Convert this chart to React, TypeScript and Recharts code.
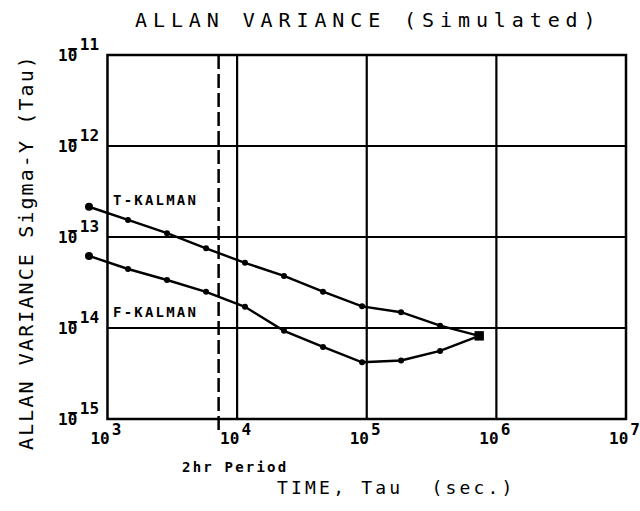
import { Line, LineChart, ReferenceArea, ReferenceLine, XAxis, YAxis } from "recharts"

const MONO = '"DejaVu Sans Mono", monospace'

// averaging times (sec) and Allan variance
const taus = [720, 1440, 2880, 5760, 11500, 23000, 46000, 92000, 184000, 368000, 737000]
const tKalman = [2.15e-13, 1.54e-13, 1.1e-13, 7.5e-14, 5.2e-14, 3.73e-14, 2.51e-14, 1.73e-14, 1.49e-14, 1.06e-14, 8.2e-15]
const fKalman = [6.2e-14, 4.45e-14, 3.37e-14, 2.5e-14, 1.71e-14, 9.3e-15, 6.2e-15, 4.2e-15, 4.4e-15, 5.6e-15, 8.2e-15]

const xTicks = [1e3, 1e4, 1e5, 1e6, 1e7]
const yTicks = [1e-15, 1e-14, 1e-13, 1e-12, 1e-11]
const xGrid = [1e4, 1e5, 1e6]
const yGrid = [1e-14, 1e-13, 1e-12]
const periodTau = 7200

const data = taus.map((tau, i) => ({ tau, t: tKalman[i], f: fKalman[i] }))

const PLOT_BOTTOM = 419

const renderDot = (props: any) => {
  const { cx, cy, index } = props
  if (index === taus.length - 1) {
    return <rect key={`d${index}`} x={cx - 4.5} y={cy - 4.5} width={9} height={9} fill="#000" />
  }
  return <circle key={`d${index}`} cx={cx} cy={cy} r={index === 0 ? 4 : 3} fill="#000" />
}

const tickStyle: React.CSSProperties = { fontFamily: MONO, fontSize: 16, fontWeight: 700 }

const XTick = (props: any) => {
  const { x, payload } = props
  const exp = Math.round(Math.log10(payload.value))
  return (
    <text x={x - 17} y={PLOT_BOTTOM + 25} fill="#000" style={tickStyle}>
      10
      <tspan dx={2} dy={-9}>{exp}</tspan>
    </text>
  )
}

// negative powers: the minus sits as a bar over the 0, like the plotter labels
const YTick = (props: any) => {
  const { y, payload } = props
  const exp = Math.round(Math.log10(payload.value))
  return (
    <text x={58} y={y + 6} fill="#000" style={tickStyle}>
      10
      <tspan dx={-9.6} dy={-7}>−</tspan>
      <tspan dx={2.5} dy={-4}>{Math.abs(exp)}</tspan>
    </text>
  )
}

const txt = (extra: React.CSSProperties): React.CSSProperties => ({
  position: "absolute",
  fontFamily: MONO,
  lineHeight: 1,
  whiteSpace: "pre",
  color: "#000",
  ...extra,
})

export default function App() {
  return (
    <div style={{ position: "absolute", left: 0, top: 0, width: 640, height: 511, background: "#fff" }}>
      <LineChart width={640} height={511} data={data} margin={{ top: 55, right: 14, bottom: 62, left: 0 }}>
        <XAxis
          dataKey="tau"
          type="number"
          scale="log"
          domain={[700, 1e7]}
          ticks={xTicks}
          interval={0}
          axisLine={false}
          tickLine={false}
          tick={<XTick />}
          height={30}
        />
        <YAxis
          type="number"
          scale="log"
          domain={[1e-15, 1e-11]}
          ticks={yTicks}
          interval={0}
          width={87.4}
          axisLine={false}
          tickLine={false}
          tick={<YTick />}
        />
        {xGrid.map((v) => (
          <ReferenceLine key={`vx${v}`} x={v} stroke="#000" strokeWidth={2.2} />
        ))}
        {yGrid.map((v) => (
          <ReferenceLine
            key={`hy${v}`}
            segment={[
              { x: 1e3, y: v },
              { x: 1e7, y: v },
            ]}
            stroke="#000"
            strokeWidth={2.2}
          />
        ))}
        <ReferenceArea x1={1e3} x2={1e7} y1={1e-15} y2={1e-11} fill="none" stroke="#000" strokeWidth={2.5} />
        <ReferenceLine
          segment={[
            { x: periodTau, y: 1e-11 },
            { x: periodTau, y: 7.5e-16 },
          ]}
          ifOverflow="visible"
          stroke="#000"
          strokeWidth={2.5}
          strokeDasharray="14 5"
        />
        <Line type="linear" dataKey="t" stroke="#000" strokeWidth={2.4} dot={renderDot} isAnimationActive={false} />
        <Line type="linear" dataKey="f" stroke="#000" strokeWidth={2.4} dot={renderDot} isAnimationActive={false} />
      </LineChart>

      <div style={txt({ left: 135, top: 10, fontSize: 20, letterSpacing: 5.9 })}>ALLAN VARIANCE (Simulated)</div>
      <div
        style={txt({
          left: 26,
          top: 252,
          fontSize: 20,
          letterSpacing: 2.1,
          transform: "translate(-50%, -50%) rotate(-90deg)",
        })}
      >
        ALLAN VARIANCE Sigma-Y (Tau)
      </div>
      <div style={txt({ left: 277, top: 479, fontSize: 18, letterSpacing: 3.2 })}>TIME, Tau  (sec.)</div>
      <div style={txt({ left: 182, top: 460, fontSize: 14, fontWeight: "bold", letterSpacing: 2.2 })}>2hr Period</div>
      <div style={txt({ left: 113, top: 193, fontSize: 14, fontWeight: "bold", letterSpacing: 2.2 })}>T-KALMAN</div>
      <div style={txt({ left: 113, top: 305, fontSize: 14, fontWeight: "bold", letterSpacing: 2.2 })}>F-KALMAN</div>
    </div>
  )
}
